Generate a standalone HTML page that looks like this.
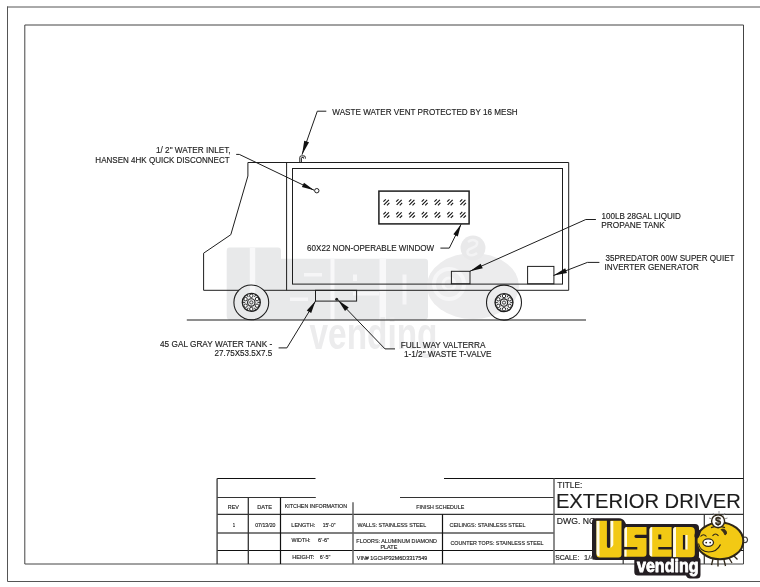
<!DOCTYPE html>
<html><head><meta charset="utf-8"><style>
html,body{margin:0;padding:0;background:#fff;width:760px;height:587px;overflow:hidden}
svg{display:block;will-change:transform}
text{font-family:"Liberation Sans",sans-serif}
.t{fill:#1c1c1c;stroke:#1c1c1c;stroke-width:0.15px}
.ah{}
</style></head><body>
<svg width="760" height="587" viewBox="0 0 760 587">
<g id="wm" stroke="none">
<path d="M229.5,247.6 H278 Q281,247.6 281,251 V258.7 H425 Q428,258.7 428,262 V316 Q428,320 424,320 H230.5 Q226.7,320 226.7,316 V251 Q226.7,247.6 229.5,247.6 Z" fill="#e8e9ea"/>
<path d="M249.8,247.6 h5.4 v53 h-5.4 z M330.5,258.7 h4 v61 h-4 z M379.5,258.7 h6.5 v61 h-6.5 z" fill="#f8f8f9"/>
<path d="M304,273 h18 v3.5 h-18 z M290,297.5 h18 v3.5 h-18 z M353,274.5 h4 v6.5 h-4 z M353,292 h26 v3.5 h-26 z M402.5,274.5 h4 v30 h-4 z" fill="#f6f6f7"/>
<ellipse cx="473" cy="286" rx="46" ry="33" fill="#ececed"/>
<circle cx="449" cy="284" r="15" fill="none" stroke="#f6f6f7" stroke-width="4"/>
<circle cx="449" cy="284" r="6" fill="none" stroke="#f6f6f7" stroke-width="3"/>
<circle cx="473" cy="248" r="12.5" fill="#e9e9ea"/>
<path d="M468,242 q5,-4 9,0 q1,4 -5,6 q-6,2 -4,6 q4,3 9,-1" fill="none" stroke="#f3f3f4" stroke-width="2.5"/>
</g>
<text x="309.5" y="349.3" font-size="44" font-weight="bold" textLength="128" lengthAdjust="spacingAndGlyphs" style="fill:#ececed">vending</text>
<g fill="none" stroke-linecap="square">
<path d="M7.5,7 H760 M7.5,7 V581.5 H760" stroke="#555" stroke-width="1"/>
<path d="M25.3,25 H743.5 V564 H25.3 Z" stroke="#444" stroke-width="1"/>
</g>
<g fill="none" stroke="#1e1e1e" stroke-width="1" stroke-linejoin="miter">
<path d="M247.9,176 V162.5 H568.7 V290.3 H516.4 M491.6,290.3 H263.6 M239,290.3 H203.6 V253.2 L230.8,234.7 L247.9,176"/>
<path d="M286.6,162.5 V290.3"/>
<rect x="292.5" y="168.5" width="270" height="115.6"/>
<rect x="378.9" y="191.1" width="90.2" height="32.8" stroke-width="1.5"/>
<rect x="451.4" y="271.3" width="18.6" height="12.5"/>
<rect x="527.6" y="266.4" width="26.3" height="17.4"/>
<rect x="315.5" y="290.3" width="41.1" height="10.8"/>
<path d="M186.8,320 H586" stroke-width="1.1"/>
<path d="M299.8,162.5 V157.4 Q299.8,155.9 301.3,155.9 H303.9 Q305.4,155.9 305.4,157.4 V158.6 M301.4,162.5 V158.2 Q301.4,157.5 302.1,157.5 H303.6 V158.6"/>
</g>
<path d="M383.90,204.80L388.90,199.80M383.40,201.70L385.80,199.30M387.00,205.30L389.40,202.90M396.65,204.80L401.65,199.80M396.15,201.70L398.55,199.30M399.75,205.30L402.15,202.90M409.40,204.80L414.40,199.80M408.90,201.70L411.30,199.30M412.50,205.30L414.90,202.90M422.15,204.80L427.15,199.80M421.65,201.70L424.05,199.30M425.25,205.30L427.65,202.90M434.90,204.80L439.90,199.80M434.40,201.70L436.80,199.30M438.00,205.30L440.40,202.90M447.65,204.80L452.65,199.80M447.15,201.70L449.55,199.30M450.75,205.30L453.15,202.90M460.40,204.80L465.40,199.80M459.90,201.70L462.30,199.30M463.50,205.30L465.90,202.90M383.90,217.40L388.90,212.40M383.40,214.30L385.80,211.90M387.00,217.90L389.40,215.50M396.65,217.40L401.65,212.40M396.15,214.30L398.55,211.90M399.75,217.90L402.15,215.50M409.40,217.40L414.40,212.40M408.90,214.30L411.30,211.90M412.50,217.90L414.90,215.50M422.15,217.40L427.15,212.40M421.65,214.30L424.05,211.90M425.25,217.90L427.65,215.50M434.90,217.40L439.90,212.40M434.40,214.30L436.80,211.90M438.00,217.90L440.40,215.50M447.65,217.40L452.65,212.40M447.15,214.30L449.55,211.90M450.75,217.90L453.15,215.50M460.40,217.40L465.40,212.40M459.90,214.30L462.30,211.90M463.50,217.90L465.90,215.50" stroke="#151515" stroke-width="1.15" fill="none"/>
<circle cx="316.8" cy="190.7" r="2.2" fill="#fff" stroke="#1e1e1e" stroke-width="1"/>
<circle cx="336.7" cy="299.3" r="1.5" fill="#1e1e1e" stroke="none"/>
<g fill="none" stroke="#1e1e1e" stroke-width="1"><circle cx="251.3" cy="302.4" r="17.4" stroke-width="1.1"/><circle cx="251.3" cy="302.4" r="9.0" stroke-width="1.3"/><circle cx="251.3" cy="302.4" r="3.7" stroke-width="1.1"/><circle cx="251.3" cy="302.4" r="1.6" stroke-width="0.8"/><path d="M257.50,302.40L260.30,302.40" stroke-width="0.9"/><path d="M254.40,307.77L255.80,310.19" stroke-width="0.9"/><path d="M248.20,307.77L246.80,310.19" stroke-width="0.9"/><path d="M245.10,302.40L242.30,302.40" stroke-width="0.9"/><path d="M248.20,297.03L246.80,294.61" stroke-width="0.9"/><path d="M254.40,297.03L255.80,294.61" stroke-width="0.9"/><circle cx="251.30" cy="295.80" r="1.7" fill="#fff" stroke-width="0.9"/><circle cx="257.02" cy="299.10" r="1.7" fill="#fff" stroke-width="0.9"/><circle cx="257.02" cy="305.70" r="1.7" fill="#fff" stroke-width="0.9"/><circle cx="251.30" cy="309.00" r="1.7" fill="#fff" stroke-width="0.9"/><circle cx="245.58" cy="305.70" r="1.7" fill="#fff" stroke-width="0.9"/><circle cx="245.58" cy="299.10" r="1.7" fill="#fff" stroke-width="0.9"/></g>
<g fill="none" stroke="#1e1e1e" stroke-width="1"><circle cx="504.0" cy="302.6" r="17.5" stroke-width="1.1"/><circle cx="504.0" cy="302.6" r="9.0" stroke-width="1.3"/><circle cx="504.0" cy="302.6" r="3.7" stroke-width="1.1"/><circle cx="504.0" cy="302.6" r="1.6" stroke-width="0.8"/><path d="M510.20,302.60L513.00,302.60" stroke-width="0.9"/><path d="M507.10,307.97L508.50,310.39" stroke-width="0.9"/><path d="M500.90,307.97L499.50,310.39" stroke-width="0.9"/><path d="M497.80,302.60L495.00,302.60" stroke-width="0.9"/><path d="M500.90,297.23L499.50,294.81" stroke-width="0.9"/><path d="M507.10,297.23L508.50,294.81" stroke-width="0.9"/><circle cx="504.00" cy="296.00" r="1.7" fill="#fff" stroke-width="0.9"/><circle cx="509.72" cy="299.30" r="1.7" fill="#fff" stroke-width="0.9"/><circle cx="509.72" cy="305.90" r="1.7" fill="#fff" stroke-width="0.9"/><circle cx="504.00" cy="309.20" r="1.7" fill="#fff" stroke-width="0.9"/><circle cx="498.28" cy="305.90" r="1.7" fill="#fff" stroke-width="0.9"/><circle cx="498.28" cy="299.30" r="1.7" fill="#fff" stroke-width="0.9"/></g>
<g fill="none" stroke="#1e1e1e" stroke-width="1">
<path d="M326.3,111.2 H317.3 L302,154.7"/>
<path d="M236.2,154.4 H239.3 L314.2,190.3"/>
<path d="M440.4,248.1 H449.3 L461.1,224.2"/>
<path d="M595.9,219.5 H585.8 L470,271.2"/>
<path d="M599.4,262.4 H587.4 L553.5,275.5"/>
<path d="M278.6,347.9 H286.9 L315.5,301.1"/>
<path d="M395,348.9 H385 L338.2,300.3"/>
</g>
<g fill="#111">
<path d="M302.00,154.70L309.08,142.35L304.22,140.64Z" class="ah"/>
<path d="M314.20,190.30L303.99,182.68L301.86,187.12Z" class="ah"/>
<path d="M461.10,224.20L453.36,234.32L457.78,236.50Z" class="ah"/>
<path d="M470.00,271.20L482.74,268.33L480.64,263.63Z" class="ah"/>
<path d="M553.50,275.50L566.98,272.93L565.20,268.34Z" class="ah"/>
<path d="M315.50,301.10L306.78,310.42L311.18,313.11Z" class="ah"/>
<path d="M338.20,300.30L345.01,311.09L348.73,307.52Z" class="ah"/>
</g>
<g fill="none" stroke-width="1.2">
<path d="M217.1,478.5 H315.5 M444,478.5 H743.5" stroke="#111"/>
<path d="M217.1,497.5 H315.8 M400,497.5 H554" stroke="#333"/>
<path d="M217.1,514.3 H743.5" stroke="#333"/>
<path d="M217.1,533 H554" stroke="#555" stroke-width="1.4"/>
<path d="M217.1,550.5 H743.5" stroke="#111"/>
<path d="M217.1,478.5 V564" stroke="#444" stroke-width="1.4"/>
<path d="M248.3,497.5 V564" stroke="#333" stroke-width="1.3"/>
<path d="M280.5,497.5 V564 M442.5,514.3 V564" stroke="#111"/>
<path d="M353,502.2 V564 M554,478.5 V564" stroke="#666" stroke-width="1.5"/>
<path d="M704.3,514.3 V564 M623.2,550.5 V564" stroke="#333"/>
</g>
<g>
<text class="t" x="332.30" y="114.60" font-size="9.1" textLength="185.39" lengthAdjust="spacingAndGlyphs">WASTE WATER VENT PROTECTED BY 16 MESH</text>
<text class="t" x="155.92" y="153.00" font-size="9.1" textLength="74.70" lengthAdjust="spacingAndGlyphs">1/ 2&quot; WATER INLET,</text>
<text class="t" x="95.36" y="162.60" font-size="9.1" textLength="134.31" lengthAdjust="spacingAndGlyphs">HANSEN 4HK QUICK DISCONNECT</text>
<text class="t" x="307.10" y="251.40" font-size="9.1" textLength="126.95" lengthAdjust="spacingAndGlyphs">60X22 NON-OPERABLE WINDOW</text>
<text class="t" x="601.44" y="218.80" font-size="9.1" textLength="79.50" lengthAdjust="spacingAndGlyphs">100LB 28GAL LIQUID</text>
<text class="t" x="601.34" y="227.90" font-size="9.1" textLength="63.42" lengthAdjust="spacingAndGlyphs">PROPANE TANK</text>
<text class="t" x="605.46" y="260.60" font-size="9.1" textLength="129.01" lengthAdjust="spacingAndGlyphs">35PREDATOR 00W SUPER QUIET</text>
<text class="t" x="604.57" y="270.10" font-size="9.1" textLength="94.28" lengthAdjust="spacingAndGlyphs">INVERTER GENERATOR</text>
<text class="t" x="160.04" y="347.00" font-size="9.1" textLength="112.32" lengthAdjust="spacingAndGlyphs">45 GAL GRAY WATER TANK -</text>
<text class="t" x="214.50" y="355.90" font-size="9.1" textLength="57.79" lengthAdjust="spacingAndGlyphs">27.75X53.5X7.5</text>
<text class="t" x="400.64" y="347.60" font-size="9.1" textLength="84.83" lengthAdjust="spacingAndGlyphs">FULL WAY VALTERRA</text>
<text class="t" x="403.92" y="357.10" font-size="9.1" textLength="87.68" lengthAdjust="spacingAndGlyphs">1-1/2&quot; WASTE T-VALVE</text>
<text class="t" x="227.77" y="508.50" font-size="5.8" textLength="11.12" lengthAdjust="spacingAndGlyphs">REV</text>
<text class="t" x="257.24" y="508.50" font-size="5.8" textLength="14.77" lengthAdjust="spacingAndGlyphs">DATE</text>
<text class="t" x="284.67" y="508.20" font-size="5.8" textLength="62.52" lengthAdjust="spacingAndGlyphs">KITCHEN INFORMATION</text>
<text class="t" x="416.37" y="508.50" font-size="5.8" textLength="47.82" lengthAdjust="spacingAndGlyphs">FINISH SCHEDULE</text>
<text class="t" x="232.70" y="526.60" font-size="5.8" textLength="2.40" lengthAdjust="spacingAndGlyphs">1</text>
<text class="t" x="255.14" y="526.60" font-size="5.8" textLength="20.35" lengthAdjust="spacingAndGlyphs">07/13/20</text>
<text class="t" x="291.36" y="526.60" font-size="5.8" textLength="23.82" lengthAdjust="spacingAndGlyphs">LENGTH:</text>
<text class="t" x="322.85" y="526.60" font-size="5.8" textLength="12.62" lengthAdjust="spacingAndGlyphs">15'-0&quot;</text>
<text class="t" x="291.60" y="541.90" font-size="5.8" textLength="18.87" lengthAdjust="spacingAndGlyphs">WIDTH:</text>
<text class="t" x="318.12" y="541.90" font-size="5.8" textLength="11.07" lengthAdjust="spacingAndGlyphs">6'-6&quot;</text>
<text class="t" x="292.15" y="559.00" font-size="5.8" textLength="22.25" lengthAdjust="spacingAndGlyphs">HEIGHT:</text>
<text class="t" x="319.73" y="559.00" font-size="5.8" textLength="10.76" lengthAdjust="spacingAndGlyphs">6'-5&quot;</text>
<text class="t" x="357.60" y="526.70" font-size="5.8" textLength="68.54" lengthAdjust="spacingAndGlyphs">WALLS: STAINLESS STEEL</text>
<text class="t" x="356.37" y="542.50" font-size="5.8" textLength="80.66" lengthAdjust="spacingAndGlyphs">FLOORS: ALUMINUM DIAMOND</text>
<text class="t" x="380.46" y="549.10" font-size="5.8" textLength="16.84" lengthAdjust="spacingAndGlyphs">PLATE</text>
<text class="t" x="356.80" y="560.00" font-size="5.8" textLength="70.45" lengthAdjust="spacingAndGlyphs">VIN# 1GCHP32M6D3317549</text>
<text class="t" x="449.53" y="526.80" font-size="5.8" textLength="75.91" lengthAdjust="spacingAndGlyphs">CEILINGS: STAINLESS STEEL</text>
<text class="t" x="450.43" y="545.00" font-size="5.8" textLength="93.11" lengthAdjust="spacingAndGlyphs">COUNTER TOPS: STAINLESS STEEL</text>
<text class="t" x="557.33" y="487.50" font-size="8.4" textLength="25.00" lengthAdjust="spacingAndGlyphs">TITLE:</text>
<text class="t" x="555.89" y="507.60" font-size="20.2" textLength="184.96" lengthAdjust="spacingAndGlyphs">EXTERIOR DRIVER</text>
<text class="t" x="556.81" y="523.60" font-size="8.4" textLength="38.91" lengthAdjust="spacingAndGlyphs">DWG. NO</text>
<text class="t" x="555.13" y="559.80" font-size="6.9" textLength="24.17" lengthAdjust="spacingAndGlyphs">SCALE:</text>
<text class="t" x="584.08" y="559.80" font-size="6.9" textLength="10.31" lengthAdjust="spacingAndGlyphs">1/4</text>
</g>
<g id="logo">
<path d="M596,518.3 H619 Q623,518.3 625,522 L626,524 H695 Q699,524 699,528 V556 Q699,560 695,560 H596 Q592,560 592,556 V522.3 Q592,518.3 596,518.3 Z" fill="#241e22"/>
<path d="M637,557 H697 Q700.5,557 700.5,560.5 V575 Q700.5,578.5 697,578.5 H690 Q687,578.5 686,575.6 H638 Q634.3,575.6 634.3,572 V560.5 Q634.3,557 637,557 Z" fill="#241e22"/>
<path d="M596.5,520.7 H606.9 V546 Q606.9,548 608.7,548 Q610.5,548 610.5,546 V520.7 H621.5 V554.5 Q621.5,557.5 618.5,557.5 H599.5 Q596.5,557.5 596.5,554.5 Z" fill="#f2c914"/>
<path d="M596.5,521 H599.5 V556.5 Q596.5,556 596.5,553 Z M610.5,521 H613.3 V545 Q612,547.6 610.5,547.8 Z" fill="#fffbe8"/>
<path d="M627.4,527 H646.5 V534.7 H636 Q634.4,534.7 634.4,536.35 Q634.4,538 636,538 H646.5 V553.8 Q646.5,556.8 643.5,556.8 H624.4 V549.5 H637.3 V546.9 H624.4 V530 Q624.4,527 627.4,527 Z" fill="#f2c914"/>
<path d="M624.4,530 Q624.4,527.2 627,527.1 V546.7 H624.4 Z M624.4,549.7 H626.6 V556.6 H624.4 Z" fill="#fffbe8"/>
<path d="M652.5,527 H671.6 V546.9 H658.3 V549.5 H671.6 V556.8 H652.5 Q649.5,556.8 649.5,553.8 V530 Q649.5,527 652.5,527 Z M658.3,534.4 V539.2 H661.3 V534.4 Z" fill="#f2c914" fill-rule="evenodd"/>
<path d="M649.5,530 Q649.5,527.2 652.2,527.1 V556.6 Q649.5,556.4 649.5,553.8 Z" fill="#fffbe8"/>
<path d="M676.1,527 H690.8 Q694.8,527 694.8,531 V553.8 Q694.8,557.3 691.3,557.3 H673.1 V530 Q673.1,527 676.1,527 Z M682.9,534.9 V549.5 H685.4 V534.9 Z" fill="#f2c914" fill-rule="evenodd"/>
<path d="M673.1,530 Q673.1,527.2 676,527.1 V557.1 H673.1 Z M685.4,534.9 H687.6 V549.5 H685.4 Z" fill="#fffbe8"/>
<text x="637.0" y="572.3" font-size="19" font-weight="bold" textLength="61.5" lengthAdjust="spacingAndGlyphs" style="fill:#fff;stroke:#241e22;stroke-width:3;stroke-linejoin:round">vending</text>
<text x="637.0" y="572.3" font-size="19" font-weight="bold" textLength="61.5" lengthAdjust="spacingAndGlyphs" style="fill:#fff;stroke:#fff;stroke-width:0.9;stroke-linejoin:round">vending</text>
<g stroke="#2e2618">
<path d="M713,559 l-1.5,6 M718,560 l0,6.5 M724,560 l1.5,6 M729,558 l3,5 M734,556 l3.5,3.5" stroke-width="1.3" fill="none"/>
<path d="M742.5,537.5 q4.5,-1.5 5,2 q0,3.5 -3.5,3 q-1.5,-1 0,-2.5" stroke-width="1.2" fill="none" stroke="#3a3a3a"/>
<ellipse cx="719.9" cy="540.9" rx="23.4" ry="18.4" fill="#f2c914" stroke-width="2"/>
<ellipse cx="697.5" cy="534" rx="2.6" ry="4.6" fill="#241e22" stroke="none" transform="rotate(20 697.5 534)"/>
<path d="M721,529.5 q4,-1.5 5.5,2.5 q0.5,2.5 -1.5,3 q-1,-3 -4,-5.5 z" fill="#3a2f1c" stroke-width="0.8"/>
<path d="M700.5,536.5 q3,-3.5 6,0 M712.5,535.8 q3,-3.5 6,0" fill="none" stroke-width="1.1"/>
<path d="M698.5,543.5 q1.5,8 10,8.5 q8.5,0 12,-7.5" fill="none" stroke-width="1.2"/>
<ellipse cx="708.2" cy="542.6" rx="5.3" ry="3.8" fill="#fff" stroke-width="1.3"/>
<circle cx="706.2" cy="542.6" r="0.9" fill="#2e2618" stroke="none"/><circle cx="710.2" cy="542.6" r="0.9" fill="#2e2618" stroke="none"/>
<path d="M711,527.6 q7,-2.5 14,0" fill="none" stroke-width="1.3"/>
<circle cx="718.1" cy="521.2" r="6.5" fill="#fff" stroke-width="1.4"/>
<text x="714.9" y="525.3" font-size="11" font-weight="bold" style="fill:#2e2618;stroke:#2e2618;stroke-width:0.3">$</text>
<path d="M713,513 l1.5,2.5 M719,511 v2.8 M725,513 l-1.5,2.5 M727.5,518 l-2.5,0.8 M709,518 l2.5,0.8" stroke="#888" stroke-width="0.9" fill="none"/>
</g>
</g>
</svg>
</body></html>
